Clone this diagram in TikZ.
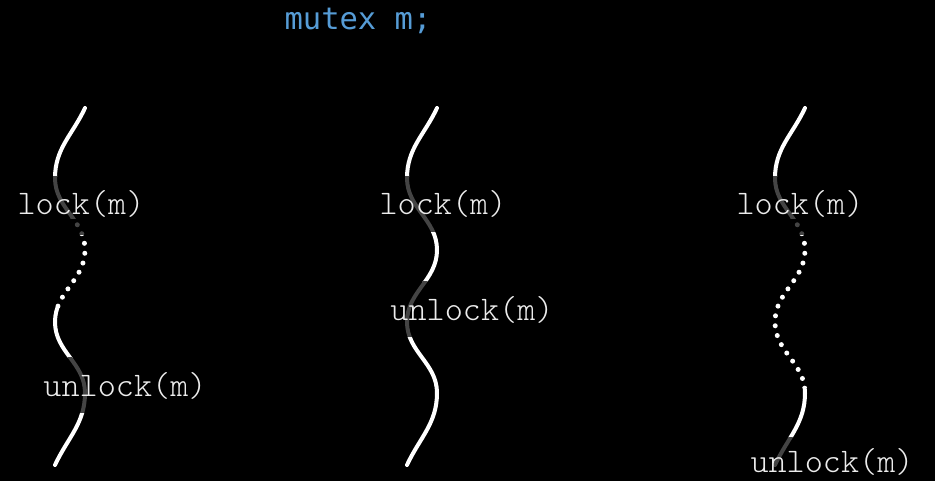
\documentclass[tikz,border=0pt]{standalone}
\usepackage{fontspec}
\usepackage{xcolor}
\newfontfamily\declfont{DejaVu Sans Mono}
\newfontfamily\callfont{Latin Modern Mono Light}
\definecolor{critgray}{RGB}{68,68,68}
\definecolor{declblue}{RGB}{86,156,214}
\definecolor{labelgray}{RGB}{236,236,236}

% one thread drawn as a wavy line, top to bottom
\newcommand{\wavepath}{(85,108) to[out=-115,in=90] (55,178) to[out=-90,in=90] (85,250)
  to[out=-90,in=90] (55,322) to[out=-90,in=90] (85,393) to[out=-90,in=65] (55,465)}

\tikzset{
  run/.style={draw=white,line width=4pt,line cap=round},
  crit/.style={draw=critgray,line width=4pt,line cap=round},
  wait/.style={draw=white,line width=5pt,line cap=round,dash pattern=on 0pt off 10pt},
  critwait/.style={wait,draw=critgray},
  call/.style={font=\callfont\fontsize{34.5}{35}\selectfont,text=labelgray,inner sep=0pt,anchor=base}
}

\begin{document}
\begin{tikzpicture}[x=1pt,y=-1pt]
    \fill[black] (0,0) rectangle (935,481);
    \useasboundingbox (0,0) rectangle (935,481);

    \node[font=\declfont\fontsize{30.5}{30.5}\selectfont,text=declblue,inner sep=0pt,anchor=base] (decl) at (358,30) {mutex m;};

    % thread 1: waits for the lock
    \foreach \ya/\yb/\kind in {95/177/run,177/219/crit,219/236/critwait,236/308/wait,308/357/run,357/413/crit,413/480/run} {
      \begin{scope}
        \clip (0,\ya) rectangle (300,\yb);
        \draw[\kind] \wavepath;
      \end{scope}
    }

    % thread 2: gets it at once
    \begin{scope}[xshift=352]
    \foreach \ya/\yb/\kind in {95/177/run,177/233/crit,233/282/run,282/337/crit,337/480/run} {
      \begin{scope}
        \clip (-50,\ya) rectangle (200,\yb);
        \draw[\kind] \wavepath;
      \end{scope}
    }
    \end{scope}

    % thread 3: waits longer
    \begin{scope}[xshift=720]
    \foreach \ya/\yb/\kind in {95/177/run,177/219/crit,219/236/critwait,236/387/wait,387/437/run,437/480/crit} {
      \begin{scope}
        \clip (-50,\ya) rectangle (200,\yb);
        \draw[\kind] \wavepath;
      \end{scope}
    }
    \end{scope}

    \node[call] (lockA) at (81,215) {lock(m)};
    \node[call] (unlockA) at (125,396) {unlock(m)};
    \node[call] (lockB) at (443,215) {lock(m)};
    \node[call] (unlockB) at (472,320) {unlock(m)};
    \node[call] (lockC) at (800,215) {lock(m)};
    \node[call] (unlockC) at (832,472) {unlock(m)};
  \end{tikzpicture}
\end{document}
